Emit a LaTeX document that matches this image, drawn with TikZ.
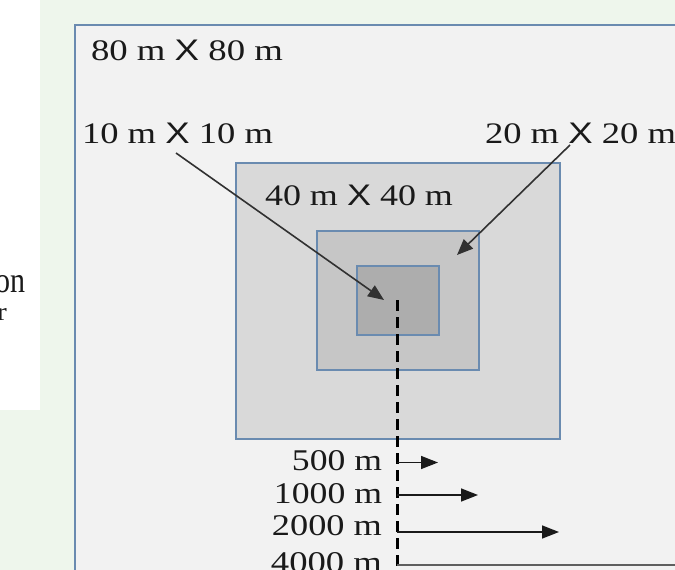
\documentclass[tikz,border=0pt]{standalone}
\usepackage{fontspec}
\setmainfont{Liberation Serif}
\newfontfamily\xsans{Liberation Sans}
\usetikzlibrary{arrows.meta}
\definecolor{bggreen}{HTML}{EEF6EC}
\definecolor{plotfill}{HTML}{F2F2F2}
\definecolor{edgeblue}{HTML}{6A8BB0}
\definecolor{fillA}{HTML}{D9D9D9}
\definecolor{fillB}{HTML}{C6C6C6}
\definecolor{fillC}{HTML}{ADADAD}
\definecolor{inkc}{HTML}{1A1A1A}
\newcommand{\fitlabel}[3]{\resizebox{#1pt}{#2pt}{\fontsize{30}{30}\selectfont #3}}
\newcommand{\bx}{{\xsans X}}
\tikzset{
  plotbox/.style={draw=edgeblue, line width=2.7pt, inner sep=0pt, outer sep=0pt},
  lbl/.style={inner sep=0pt, outer sep=0pt, text=inkc},
  pointer/.style={draw=inkc!90, line width=1.6pt, -{Triangle[length=16pt,width=13pt]}},
  distarrow/.style={draw=inkc, line width=1.6pt, -{Triangle[length=17pt,width=13pt]}},
  axisdash/.style={draw=black, line width=3pt, dash pattern=on 11pt off 6pt}
}
\begin{document}
\begin{tikzpicture}[x=1pt,y=-1pt]
\useasboundingbox (0,0) rectangle (675,570);
\clip (0,0) rectangle (675,570);
\fill[bggreen] (0,0) rectangle (675,570);
\fill[white] (0,0) rectangle (40,410);
\node[lbl, anchor=base east] (frag1) at (25,292) {\resizebox{30pt}{17pt}{on}};
\node[lbl, anchor=base east] (frag2) at (7,320) {\resizebox{10pt}{12pt}{r}};

% boxes
\node[plotbox, fill=plotfill, minimum width=625pt, minimum height=575pt] (b80) at (387.5,312.5) {};
\node[plotbox, fill=fillA, minimum width=324pt, minimum height=276pt] (b40) at (398,301) {};
\node[plotbox, fill=fillB, minimum width=162pt, minimum height=139pt] (b20) at (398,300.5) {};
\node[plotbox, fill=fillC, minimum width=82pt, minimum height=69pt] (b10) at (398,300.5) {};

% labels
\node[lbl, anchor=base west] (l80) at (91,60) {\fitlabel{192}{20.5}{80 m \bx\ 80 m}};
\node[lbl, anchor=base west] (l10) at (82,143) {\fitlabel{191}{20.5}{10 m \bx\ 10 m}};
\node[lbl, anchor=base west] (l20) at (485,143) {\fitlabel{191}{20.5}{20 m \bx\ 20 m}};
\node[lbl, anchor=base west] (l40) at (265,205) {\fitlabel{188}{20.5}{40 m \bx\ 40 m}};

% pointers
\coordinate (p10s) at (176,153);
\coordinate (p10e) at (384,300);
\coordinate (p20s) at (570,145);
\coordinate (p20e) at (457,255);
\draw[pointer] (p10s) -- (p10e);
\draw[pointer] (p20s) -- (p20e);

% dashed axis
\coordinate (dtop) at (397,300);
\coordinate (dbot) at (397,580);
\draw[axisdash] (dtop) -- (dbot);

% distance labels
\node[lbl, anchor=base east] (d500) at (382,470) {\fitlabel{90}{20}{500 m}};
\node[lbl, anchor=base east] (d1000) at (382,503) {\fitlabel{108}{20}{1000 m}};
\node[lbl, anchor=base east] (d2000) at (382,535) {\fitlabel{110}{20}{2000 m}};
\node[lbl, anchor=base east] (d4000) at (382,572) {\fitlabel{111}{20}{4000 m}};

% distance arrows
\coordinate (a500s) at (397,462.5);
\coordinate (a500e) at (438,462.5);
\coordinate (a1000s) at (397,495);
\coordinate (a1000e) at (478,495);
\coordinate (a2000s) at (397,532);
\coordinate (a2000e) at (559,532);
\coordinate (a4000s) at (397,565);
\coordinate (a4000e) at (690,565);
\draw[distarrow] (a500s) -- (a500e);
\draw[distarrow] (a1000s) -- (a1000e);
\draw[distarrow] (a2000s) -- (a2000e);
\draw[draw=inkc!70, line width=2.2pt] (a4000s) -- (a4000e);
\end{tikzpicture}
\end{document}
